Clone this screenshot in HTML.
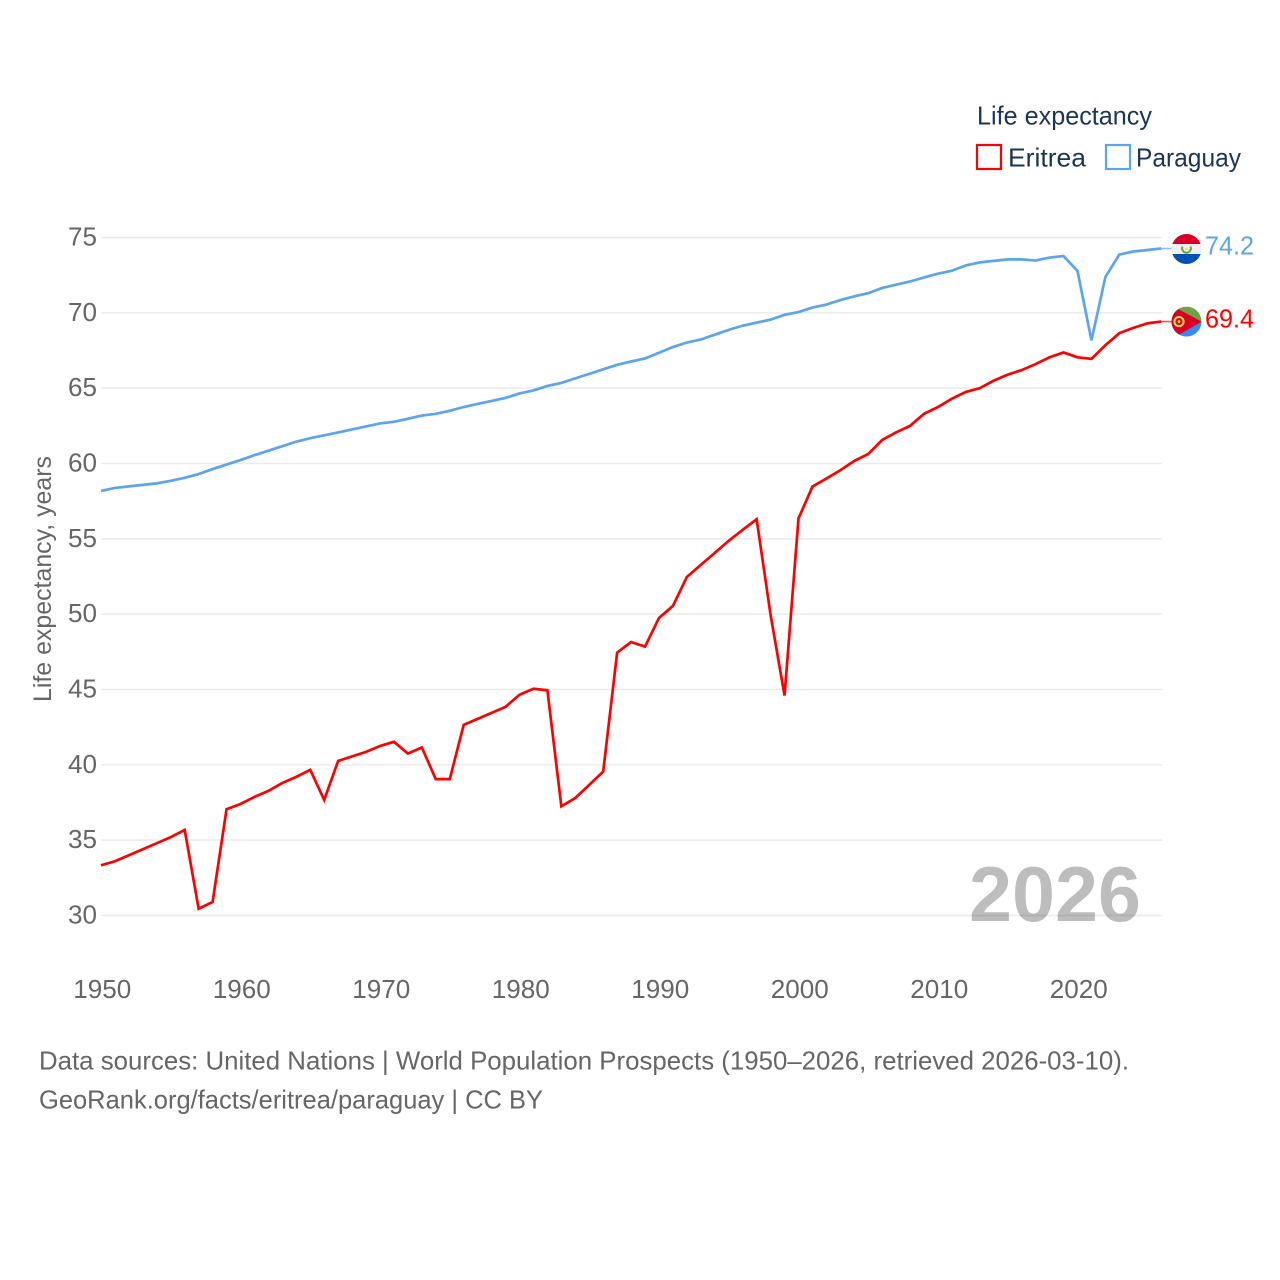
<!DOCTYPE html>
<html lang="en">
<head>
<meta charset="utf-8">
<title>Life expectancy: Eritrea and Paraguay</title>
<style>
html,body{margin:0;padding:0;background:#fff}
svg{display:block}
text{font-family:"Liberation Sans",sans-serif}
</style>
</head>
<body>
<svg id="chart" xmlns="http://www.w3.org/2000/svg" width="1280" height="1280" viewBox="0 0 1280 1280">
  <rect width="1280" height="1280" fill="#fff"/>
  <defs>
    <clipPath id="flag-clip-py"><circle cx="0" cy="0" r="15"/></clipPath>
    <clipPath id="flag-clip-er"><circle cx="0" cy="0" r="15"/></clipPath>
  </defs>
  <g id="grid"></g>
  <text x="969" y="921" font-size="78" font-weight="700" fill="#000" fill-opacity="0.26" textLength="172" lengthAdjust="spacingAndGlyphs">2026</text>
  <g id="y-axis"></g>
  <g id="x-axis"></g>
  <text transform="translate(51,702) rotate(-90)" font-size="25" fill="#666" textLength="246" lengthAdjust="spacingAndGlyphs">Life expectancy, years</text>
  <g id="series"></g>
  <g id="end-labels"></g>

  <g>
    <text x="977" y="124.5" font-size="26" fill="#1a3556" textLength="175" lengthAdjust="spacingAndGlyphs">Life expectancy</text>
    <g>
      <rect x="977" y="145" width="24" height="24" fill="#fff" stroke="#ff0000" stroke-width="2.2"/>
      <text x="1008" y="166.5" font-size="26" fill="#1a3556" textLength="78" lengthAdjust="spacingAndGlyphs">Eritrea</text>
    </g>
    <g>
      <rect x="1106" y="145" width="24" height="24" fill="#fff" stroke="#5ba4ee" stroke-width="2.2"/>
      <text x="1136" y="166.5" font-size="26" fill="#1a3556" textLength="105" lengthAdjust="spacingAndGlyphs">Paraguay</text>
    </g>
  </g>

  <text x="39" y="1069.5" font-size="26" fill="#666" textLength="1090" lengthAdjust="spacingAndGlyphs">Data sources: United Nations | World Population Prospects (1950–2026, retrieved 2026-03-10).</text>
  <text x="39" y="1108.5" font-size="26" fill="#666" textLength="504" lengthAdjust="spacingAndGlyphs">GeoRank.org/facts/eritrea/paraguay | CC BY</text>
</svg>
<script>
const years = [1950,1951,1952,1953,1954,1955,1956,1957,1958,1959,1960,1961,1962,1963,1964,1965,1966,1967,1968,1969,1970,1971,1972,1973,1974,1975,1976,1977,1978,1979,1980,1981,1982,1983,1984,1985,1986,1987,1988,1989,1990,1991,1992,1993,1994,1995,1996,1997,1998,1999,2000,2001,2002,2003,2004,2005,2006,2007,2008,2009,2010,2011,2012,2013,2014,2015,2016,2017,2018,2019,2020,2021,2022,2023,2024,2025,2026];
const eritrea = [33.33,33.6,34.0,34.4,34.8,35.2,35.68,30.45,30.9,37.05,37.4,37.87,38.27,38.8,39.2,39.67,37.67,40.26,40.56,40.86,41.25,41.53,40.75,41.15,39.05,39.05,42.65,43.05,43.45,43.85,44.65,45.05,44.95,37.25,37.8,38.67,39.55,47.45,48.15,47.85,49.75,50.55,52.47,53.27,54.07,54.87,55.6,56.3,49.95,44.6,56.35,58.47,59.0,59.55,60.17,60.63,61.56,62.07,62.5,63.3,63.75,64.3,64.75,65.0,65.5,65.9,66.2,66.6,67.05,67.37,67.05,66.95,67.85,68.65,69.0,69.3,69.42];
const paraguay = [58.18,58.38,58.48,58.58,58.68,58.85,59.05,59.3,59.63,59.93,60.23,60.55,60.85,61.15,61.45,61.68,61.87,62.06,62.26,62.46,62.66,62.77,62.97,63.18,63.3,63.5,63.75,63.95,64.15,64.35,64.65,64.85,65.15,65.35,65.65,65.95,66.25,66.55,66.77,66.97,67.35,67.73,68.03,68.23,68.55,68.87,69.15,69.35,69.55,69.87,70.05,70.35,70.55,70.85,71.1,71.3,71.65,71.87,72.08,72.35,72.6,72.8,73.15,73.35,73.45,73.55,73.55,73.47,73.67,73.77,72.78,68.17,72.38,73.87,74.07,74.17,74.27];
const yTicks = [30,35,40,45,50,55,60,65,70,75];
const xTicks = [1950,1960,1970,1980,1990,2000,2010,2020];
const endLabels = ["69.4","74.2"];

const NS = 'http://www.w3.org/2000/svg';
const xScale = v => 101 + (v - 1950) * (1161.2 - 101) / 76;
const yScale = v => 915.5 - (v - 30) * (915.5 - 237.5) / 45;
function make(tag, attrs, parent) {
  const el = document.createElementNS(NS, tag);
  for (const k in attrs) el.setAttribute(k, attrs[k]);
  parent.appendChild(el);
  return el;
}
const gridG = document.getElementById('grid');
const yG = document.getElementById('y-axis');
const xG = document.getElementById('x-axis');
const seriesG = document.getElementById('series');
const endG = document.getElementById('end-labels');

yTicks.forEach(t => {
  const line = make('line', {x1: 101, x2: 1162, y1: yScale(t), y2: yScale(t), stroke: '#ebebeb', 'stroke-width': 1.5}, gridG);
  
  
  const label = make('text', {x: 97, y: yScale(t) + 8, 'text-anchor': 'end', 'font-size': 26, fill: '#666', textLength: 29, lengthAdjust: 'spacingAndGlyphs'}, yG);
  
  
  label.textContent = t;
});
xTicks.forEach(t => {
  const label = make('text', {x: xScale(t) + 1.3, y: 998, 'text-anchor': 'middle', 'font-size': 26, fill: '#666', textLength: 58, lengthAdjust: 'spacingAndGlyphs'}, xG);
  
  
  label.textContent = t;
});

function linePath(values) {
  return values.map((v, i) => (i ? 'L' : 'M') + xScale(years[i]).toFixed(2) + ' ' + yScale(v).toFixed(2)).join(' ');
}
const lastIndex = years.length - 1;

const erLine = make('path', {d: linePath(eritrea), fill: 'none', stroke: '#ff0000', 'stroke-width': 2.7, 'stroke-linejoin': 'miter'}, seriesG);


const pyLine = make('path', {d: linePath(paraguay), fill: 'none', stroke: '#5ba4ee', 'stroke-width': 2.7, 'stroke-linejoin': 'miter'}, seriesG);



const erY = yScale(eritrea[lastIndex]);
const pyY = yScale(paraguay[lastIndex]);
const erConn = make('line', {x1: 1161, x2: 1172, y1: erY, y2: erY, stroke: '#ff0000', 'stroke-width': 1.6, 'stroke-opacity': 0.7}, seriesG);


const pyConn = make('line', {x1: 1161, x2: 1172, y1: pyY, y2: pyY, stroke: '#5ba4ee', 'stroke-width': 1.6, 'stroke-opacity': 0.7}, seriesG);



// Paraguay flag
const pyFlag = make('g', {transform: 'translate(1186.5,' + (pyY + 0.5) + ')', 'clip-path': 'url(#flag-clip-py)'}, endG);


make('rect', {x: -15, y: -15, width: 30, height: 10, fill: '#d80027'}, pyFlag);
make('rect', {x: -15, y: -5, width: 30, height: 10, fill: '#f0f0f0'}, pyFlag);
make('rect', {x: -15, y: 5, width: 30, height: 10, fill: '#0052b4'}, pyFlag);
make('path', {d: 'M-4 -2.5 A4.4 4.4 0 1 0 4 -2.5', fill: 'none', stroke: '#6da544', 'stroke-width': 2}, pyFlag);
make('circle', {cx: 0, cy: 0, r: 1.4, fill: '#ffda44'}, pyFlag);

// Eritrea flag
const erFlag = make('g', {transform: 'translate(1186.5,' + erY + ')', 'clip-path': 'url(#flag-clip-er)'}, endG);


make('rect', {x: -15, y: -15, width: 30, height: 15, fill: '#6da544'}, erFlag);
make('rect', {x: -15, y: 0, width: 30, height: 15, fill: '#338af3'}, erFlag);
make('path', {d: 'M-15 -15 L-15 15 L-9 14 L15 0 L-9 -13 Z', fill: '#d80027'}, erFlag);
make('circle', {cx: -7.5, cy: 0, r: 4.6, fill: 'none', stroke: '#ffda44', 'stroke-width': 2}, erFlag);
make('circle', {cx: -7.5, cy: 0, r: 1.4, fill: '#ffda44'}, erFlag);

const erValue = make('text', {x: 1205, y: erY + 6, 'font-size': 26, fill: '#ff0000', textLength: 49, lengthAdjust: 'spacingAndGlyphs'}, endG);


erValue.textContent = endLabels[0];
const pyValue = make('text', {x: 1205, y: pyY + 6, 'font-size': 26, fill: '#5ba4ee', textLength: 49, lengthAdjust: 'spacingAndGlyphs'}, endG);


pyValue.textContent = endLabels[1];
</script>
</body>
</html>
